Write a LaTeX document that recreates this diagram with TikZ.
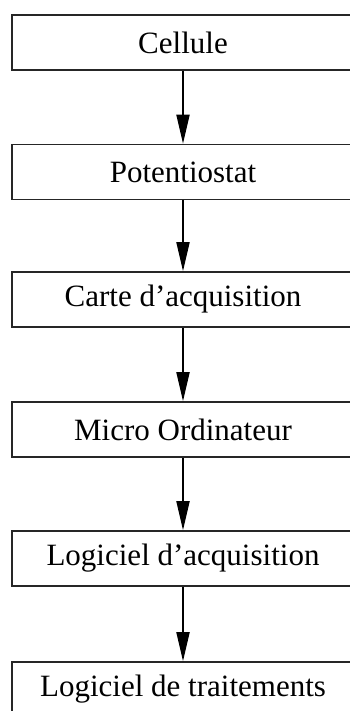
\documentclass[tikz,border=0pt]{standalone}
\usepackage{fontspec}
\setmainfont{Liberation Serif}
\usetikzlibrary{arrows.meta}
\begin{document}
\begin{tikzpicture}[x=1pt,y=-1pt,
  stagebox/.style={draw=black!85, line width=1.6pt, minimum width=342pt, minimum height=55pt, inner sep=0pt, font=\fontsize{31}{36}\selectfont},
  flow/.style={draw=black, line width=1.8pt, -{Triangle[length=29pt,width=13pt]}}]
\useasboundingbox (0,0) rectangle (350,711);
\clip (0,0) rectangle (350,711);
\node[stagebox] (c) at (183,42.5) {Cellule};
\node[stagebox] (p) at (183,172) {Potentiostat};
\node[stagebox] (a) at (183,299.5) {Carte d'acquisition};
\node[stagebox] (m) at (183,429.5) {Micro Ordinateur};
\node[stagebox] (l) at (183,558.5) {Logiciel d'acquisition};
\node[stagebox] (t) at (183,689.5) {Logiciel de traitements};
\draw[flow] (c) -- (p);
\draw[flow] (p) -- (a);
\draw[flow] (a) -- (m);
\draw[flow] (m) -- (l);
\draw[flow] (l) -- (t);
\end{tikzpicture}
\end{document}
